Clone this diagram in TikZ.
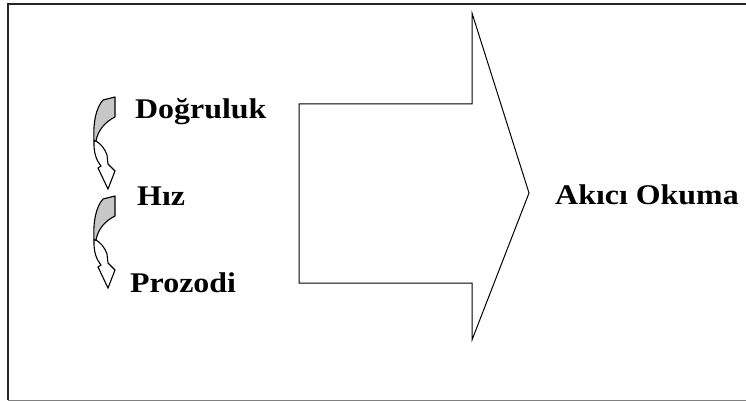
\documentclass[tikz,border=0pt]{standalone}
\usepackage{fontspec}
\setmainfont{Liberation Serif}[BoldFont={Liberation Serif Bold}]
\usepackage{graphicx}
\begin{document}
\begin{tikzpicture}[x=1pt,y=-1pt,
  lbl/.style={anchor=base west,inner sep=0pt,font=\fontsize{28.5}{30}\selectfont\bfseries},
  bigarrow/.style={draw=black,line width=1pt,line join=miter},
  ribbonback/.style={draw=black,fill=black!22,line width=1.1pt,line join=round},
  ribbonfront/.style={draw=black,fill=white,line width=1.1pt,line join=miter}]
\useasboundingbox (0,0) rectangle (746,401);
% frame
\draw[line width=2pt,black!85] (8,400) -- (8,4) -- (746,4);
\draw[line width=1pt,black!50] (8,400) -- (746,400);
% big block arrow
\draw[bigarrow] (299,104) -- (472,104) -- (472,13) -- (529,193) -- (472,340) -- (472,283) -- (299,283) -- cycle;
% curved arrows
\foreach \dy/\nm in {0/ca1,99/ca2}{
\begin{scope}[shift={(115,97+\dy)}]
  \coordinate (\nm) at (0,0);
  \draw[ribbonfront] (-21,44) .. controls (-21.5,57) and (-18,64) .. (-14,69)
     -- (-17,71) -- (-7,92) -- (0,74) -- (-7,67) -- (-8,58)
     .. controls (-10,52) and (-14,47) .. (-19,44) -- cycle;
  \draw[ribbonback] (-12,3) -- (0,0) -- (0,20)
     .. controls (-10,25) and (-17,33) .. (-19,44) -- (-21,44)
     .. controls (-22,25) and (-19,11) .. (-12,3) -- cycle;
\end{scope}}
% labels
\node[lbl] (d) at (135,118) {\scalebox{1.12}[1]{Doğruluk}};
\node[lbl] (h) at (137,205) {\scalebox{1.12}[1]{Hız}};
\node[lbl] (p) at (130,292) {\scalebox{1.12}[1]{Prozodi}};
\node[lbl] (a) at (555,204) {\scalebox{1.12}[1]{Akıcı Okuma}};
\end{tikzpicture}
\end{document}
